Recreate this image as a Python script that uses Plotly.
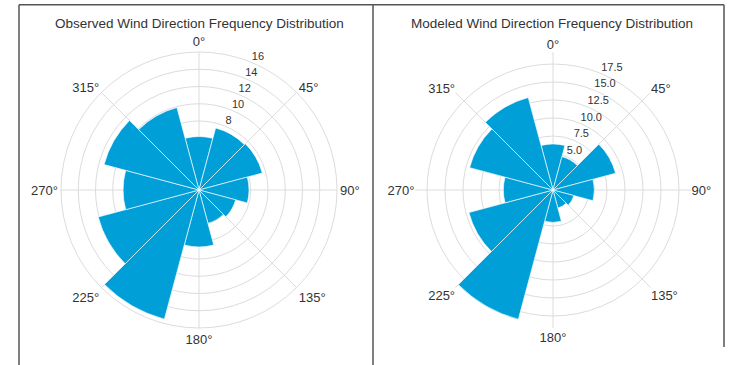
import plotly.graph_objects as go

# Direction bins (degrees, centre of each 30° sector)
directions = [0, 30, 60, 90, 120, 150, 180, 210, 240, 270, 300, 330]
observed_freq = [6.2, 7.45, 7.6, 5.8, 4.4, 4.0, 6.6, 15.5, 12.1, 8.8, 11.4, 9.9]
modeled_freq = [6.4, 4.8, 9.0, 5.75, 3.0, 2.6, 4.5, 18.6, 12.1, 6.9, 12.0, 13.3]

# radial grid / visible radial tick labels
obs_rgrid = [2, 4, 6, 8, 10, 12, 14, 16]
obs_rticks = [8, 10, 12, 14, 16]
obs_rlabels = ["8", "10", "12", "14", "16"]
mod_rgrid = [2.5, 5.0, 7.5, 10.0, 12.5, 15.0, 17.5]
mod_rticks = [5.0, 7.5, 10.0, 12.5, 15.0, 17.5]
mod_rlabels = ["5.0", "7.5", "10.0", "12.5", "15.0", "17.5"]
obs_rmax = 16.0
mod_rmax = 19.17
rlabel_angle = 22.5
ang_ticks = [0, 45, 90, 135, 180, 225, 270, 315]
ang_labels = ["0°", "45°", "90°", "135°", "180°", "225°", "270°", "315°"]
titles = ["Observed Wind Direction Frequency Distribution",
          "Modeled Wind Direction Frequency Distribution"]

BAR = "#009FD8"
GRID = "#dcdcdc"
TXT = "#333333"
FONT = "Arial, Liberation Sans, sans-serif"

fig = go.Figure()
for sp, vals, rt, rl in [("polar", observed_freq, obs_rticks, obs_rlabels),
                         ("polar2", modeled_freq, mod_rticks, mod_rlabels)]:
    fig.add_trace(go.Barpolar(r=vals, theta=directions, width=[30] * len(directions),
                              marker=dict(color=BAR, line=dict(color="rgba(255,255,255,0.8)", width=0.8)),
                              subplot=sp, showlegend=False, hoverinfo="skip"))
    fig.add_trace(go.Scatterpolar(r=rt, theta=[rlabel_angle] * len(rt), text=rl, mode="text",
                                  textposition="top right", cliponaxis=False,
                                  textfont=dict(family=FONT, size=11, color=TXT),
                                  subplot=sp, showlegend=False, hoverinfo="skip"))


def polar_cfg(cx, rng, rg, outer):
    W, H, R, cy = 734, 365, 138, 175
    return dict(
        domain=dict(x=[(cx - R) / W, (cx + R) / W], y=[(cy - R) / H, (cy + R) / H]),
        bgcolor="white",
        radialaxis=dict(range=rng, tickvals=rg, showticklabels=False, showline=False, ticks="",
                        gridcolor=GRID, gridwidth=1, layer="below traces"),
        angularaxis=dict(rotation=90, direction="clockwise", tickvals=ang_ticks,
                         ticktext=ang_labels, ticks="", gridcolor=GRID, gridwidth=1,
                         showline=outer, linecolor=GRID, linewidth=1,
                         tickfont=dict(family=FONT, size=13, color=TXT)),
    )


W, H = 734, 365
fig.update_layout(
    width=W, height=H, margin=dict(l=0, r=0, t=0, b=0),
    paper_bgcolor="white", plot_bgcolor="white",
    font=dict(family=FONT, color=TXT),
    polar=polar_cfg(199, [0, obs_rmax], obs_rgrid, True),
    polar2=polar_cfg(553, [0, mod_rmax], mod_rgrid, False),
    annotations=[
        dict(text=titles[0], x=199 / W, y=1 - 24 / H, xref="paper", yref="paper",
             xanchor="center", yanchor="middle",
             showarrow=False, font=dict(family=FONT, size=13.5, color=TXT)),
        dict(text=titles[1], x=552 / W, y=1 - 24 / H, xref="paper", yref="paper",
             xanchor="center", yanchor="middle",
             showarrow=False, font=dict(family=FONT, size=13.5, color=TXT)),
    ],
    shapes=[
        dict(type="line", xref="paper", yref="paper", x0=19 / W, x1=724 / W,
             y0=1 - 4.7 / H, y1=1 - 4.7 / H, line=dict(color="#555555", width=1.5)),
        dict(type="line", xref="paper", yref="paper", x0=19 / W, x1=19 / W,
             y0=0, y1=1 - 4.7 / H, line=dict(color="#555555", width=1.5)),
        dict(type="line", xref="paper", yref="paper", x0=373 / W, x1=373 / W,
             y0=0, y1=1 - 4.7 / H, line=dict(color="#555555", width=1.5)),
        dict(type="line", xref="paper", yref="paper", x0=724 / W, x1=724 / W,
             y0=1 - 347 / H, y1=1 - 4.7 / H, line=dict(color="#555555", width=1.5)),
    ],
)

fig.write_html("out.html", config={"displayModeBar": False},
               post_script="document.body.style.margin='0px';")
